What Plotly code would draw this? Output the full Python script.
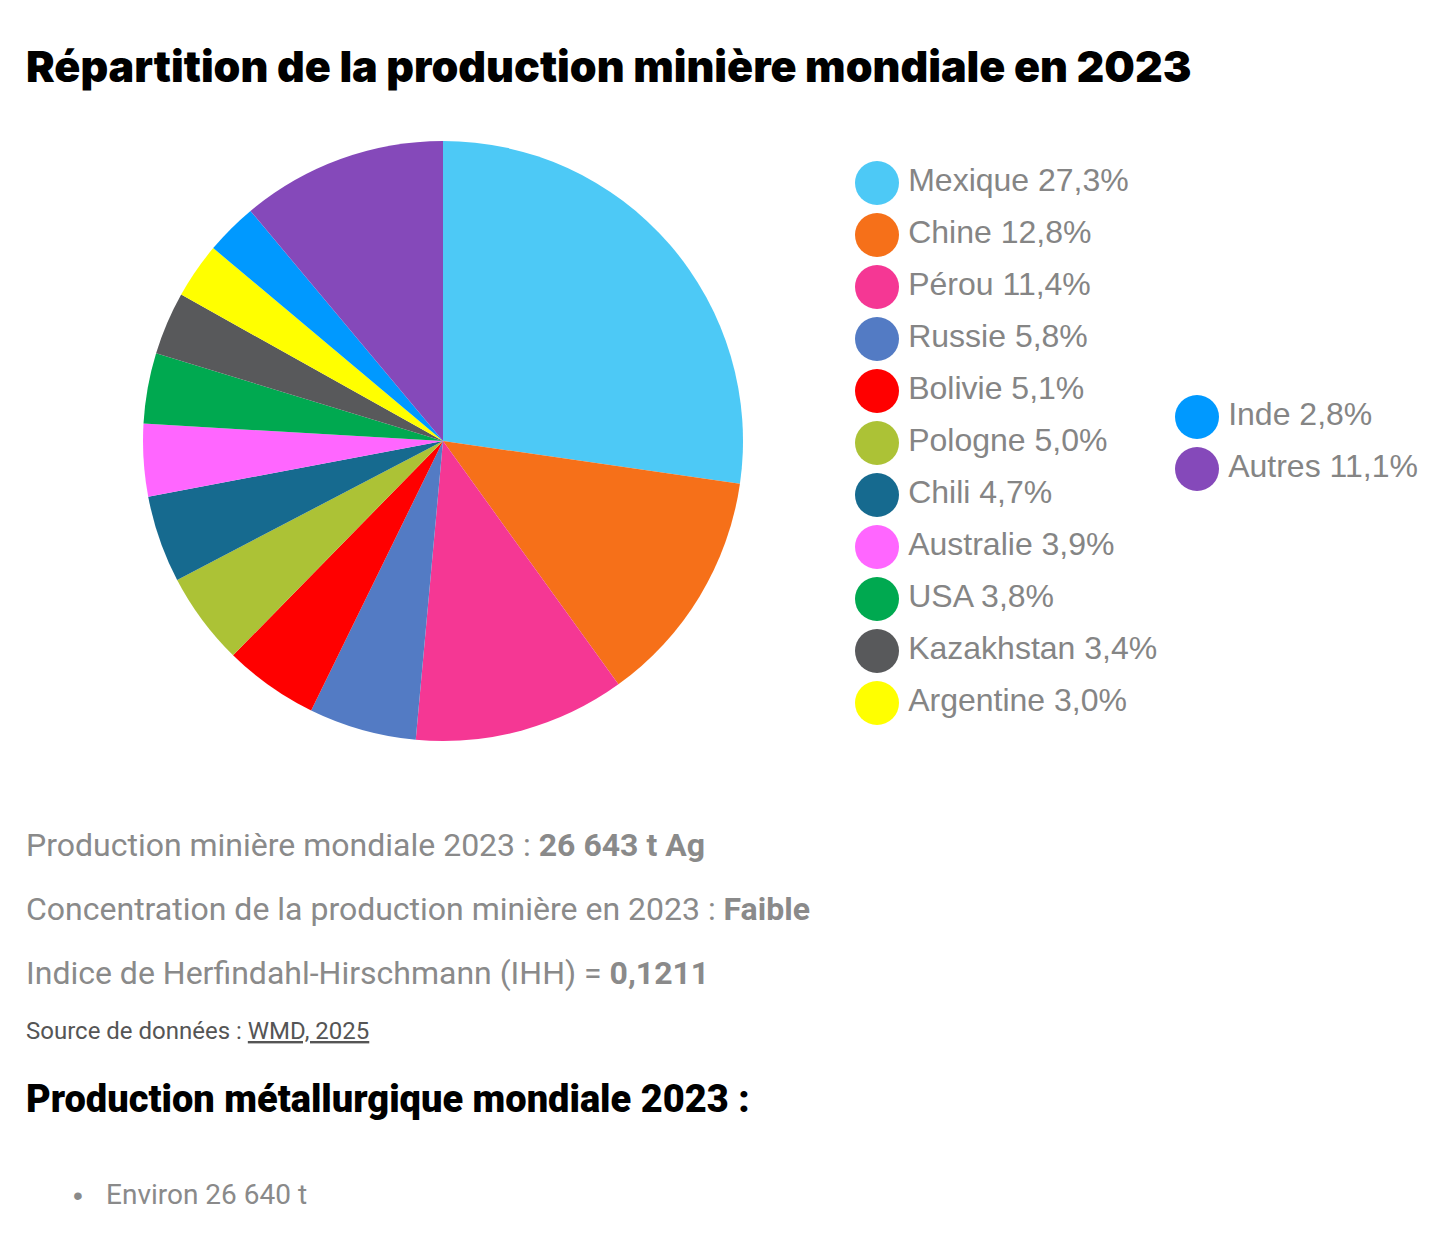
import plotly.graph_objects as go

countries = ["Mexique", "Chine", "Pérou", "Russie", "Bolivie", "Pologne", "Chili",
             "Australie", "USA", "Kazakhstan", "Argentine", "Inde", "Autres"]
shares = [27.3, 12.8, 11.4, 5.8, 5.1, 5.0, 4.7, 3.9, 3.8, 3.4, 3.0, 2.8, 11.1]
colors = ["#4dc9f6", "#f67019", "#f53794", "#537bc4", "#ff0000", "#acc236", "#166a8f",
          "#ff66ff", "#00a950", "#58595b", "#ffff00", "#0099ff", "#8549ba"]

title_text = "Répartition de la production minière mondiale en 2023"
info_lines = [
    ("Production minière mondiale 2023 : ", "26 643 t Ag"),
    ("Concentration de la production minière en 2023 : ", "Faible"),
    ("Indice de Herfindahl-Hirschmann (IHH) = ", "0,1211"),
]
source_label = "Source de données : "
source_link = "WMD, 2025"
heading2 = "Production métallurgique mondiale 2023 :"
bullet_items = ["Environ 26 640 t"]

W, H = 1436, 1235
OFF = 8  # page body margin
labels = [f"{c} {s:.1f}%".replace(".", ",") for c, s in zip(countries, shares)]


def px(v):
    return (v - OFF) / W


def py(v):
    return 1 - (v - OFF) / H


fig = go.Figure()
fig.add_trace(go.Pie(
    labels=countries, values=shares, sort=False, direction="clockwise", rotation=0,
    marker=dict(colors=colors, line=dict(width=0)), textinfo="none",
    hoverinfo="label+percent", showlegend=False,
    domain=dict(x=[px(143), px(743)], y=[py(741), py(141)]),
))

# legend built as a scatter: first column 11 items, second column the rest
n_first = 11
lx, ly = [], []
for i in range(len(countries)):
    if i < n_first:
        lx.append(0); ly.append(i)
    else:
        lx.append(1); ly.append((n_first - 1) / 2 + (i - n_first) - 0.5)

fig.add_trace(go.Scatter(
    x=lx, y=ly, mode="markers+text", text=["\u200a" + t for t in labels],
    textposition="middle right",
    marker=dict(size=44, color=colors, line=dict(width=0)),
    textfont=dict(family="Liberation Sans, Arial, sans-serif", size=32, color="#858585"),
    cliponaxis=False, showlegend=False, hoverinfo="skip", xaxis="x", yaxis="y",
))

fig.update_layout(
    width=W, height=H, margin=dict(l=0, r=0, t=0, b=0),
    paper_bgcolor="white", plot_bgcolor="white",
    xaxis=dict(domain=[px(717), px(1357)], range=[-0.5, 1.5], visible=False, fixedrange=True),
    yaxis=dict(domain=[py(729), py(157)], range=[10.5, -0.5], visible=False, fixedrange=True),
)

ann = []
ann.append(dict(text=title_text, x=px(24), y=py(66), xref="paper", yref="paper",
                xanchor="left", yanchor="middle", showarrow=False,
                font=dict(family="Inter", size=43, color="#000000", weight=900)))
for k, (reg, bold) in enumerate(info_lines):
    ann.append(dict(text=f"{reg}<b>{bold}</b>", x=px(24), y=py(845 + 64 * k),
                    xref="paper", yref="paper", xanchor="left", yanchor="middle",
                    showarrow=False,
                    font=dict(family="Roboto", size=32, color="#8a8a8a")))
ann.append(dict(text=f"{source_label}<u>{source_link}</u>", x=px(24), y=py(1031),
                xref="paper", yref="paper", xanchor="left", yanchor="middle",
                showarrow=False, font=dict(family="Roboto", size=24, color="#555555")))
ann.append(dict(text=heading2, x=px(24), y=py(1099), xref="paper", yref="paper",
                xanchor="left", yanchor="middle", showarrow=False,
                font=dict(family="Roboto", size=38, color="#000000", weight=900)))
for k, item in enumerate(bullet_items):
    ann.append(dict(text="•", x=px(71), y=py(1195 + 40 * k), xref="paper", yref="paper",
                    xanchor="left", yanchor="middle", showarrow=False,
                    font=dict(family="Liberation Sans", size=28, color="#8a8a8a")))
    ann.append(dict(text=item, x=px(104), y=py(1194 + 40 * k), xref="paper", yref="paper",
                    xanchor="left", yanchor="middle", showarrow=False,
                    font=dict(family="Roboto", size=28, color="#8a8a8a")))
fig.update_layout(annotations=ann)

fig.write_html("out.html")
